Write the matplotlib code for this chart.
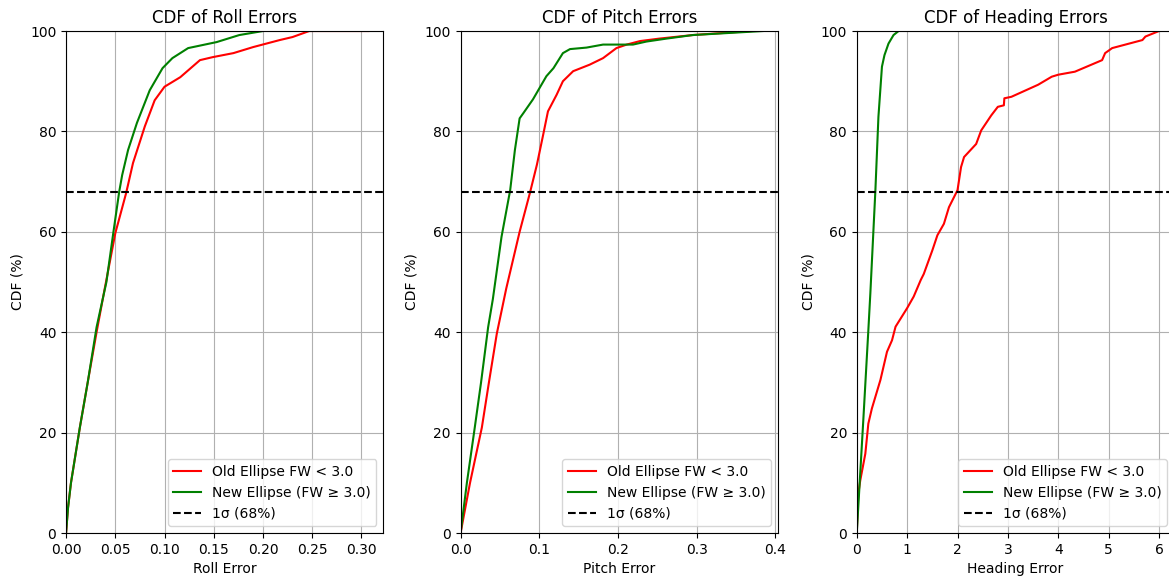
import numpy as np
import matplotlib
matplotlib.use("Agg")
import matplotlib.pyplot as plt

roll_old_pct = [0, 5, 10, 21, 30, 40, 48.4, 59.7, 67.7, 73.7, 81, 86.2, 88.9, 90.8, 94.2, 94.8, 95.6, 96.8, 98.2, 98.8, 100, 100]
roll_old_err = [0, 0.002, 0.005, 0.014, 0.022, 0.031, 0.039, 0.050, 0.061, 0.068, 0.080, 0.090, 0.100, 0.116, 0.136, 0.149, 0.170, 0.190, 0.217, 0.230, 0.247, 0.307]
roll_new_pct = [0, 5, 10, 21, 30, 41, 50, 59.8, 68, 71.3, 76.3, 81.7, 88.2, 92.6, 94.6, 96.6, 97.8, 99.2, 100]
roll_new_err = [0, 0.002, 0.005, 0.014, 0.022, 0.031, 0.041, 0.048, 0.054, 0.057, 0.063, 0.072, 0.085, 0.098, 0.108, 0.124, 0.153, 0.176, 0.200]

pitch_old_pct = [0, 10, 21, 30, 39.7, 48.7, 60, 67.7, 73.4, 79.4, 84, 87.3, 90, 92, 93.3, 94.6, 96.6, 97.3, 98, 98.5, 99.2, 100]
pitch_old_err = [0, 0.012, 0.027, 0.036, 0.046, 0.058, 0.075, 0.088, 0.097, 0.105, 0.111, 0.122, 0.130, 0.143, 0.164, 0.181, 0.198, 0.211, 0.228, 0.253, 0.295, 0.37]
pitch_new_pct = [0, 10, 21, 30, 41, 46.6, 59, 68.3, 76.3, 82.6, 83.7, 86.4, 91, 92.6, 94.6, 95.6, 96.4, 96.7, 97.3, 97.3, 97.9, 98.5, 99.2, 100]
pitch_new_err = [0, 0.008, 0.018, 0.026, 0.035, 0.041, 0.052, 0.063, 0.069, 0.075, 0.080, 0.092, 0.109, 0.118, 0.126, 0.130, 0.139, 0.160, 0.181, 0.219, 0.236, 0.262, 0.295, 0.384]

head_old_pct = [0, 7.8, 10.5, 15.8, 21.8, 24.8, 30.5, 36.1, 38.4, 41.1, 44.8, 47.1, 50.4, 51.6, 56.3, 59.3, 61.6, 64.9, 68.3, 72.9, 74.9, 77.5, 80.2, 83.2, 84.9, 85.2, 86.6, 86.9, 89.3, 90.9, 91.3, 91.9, 94.2, 95.6, 96.6, 98.2, 98.9, 100]
head_old_err = [0, 0.03, 0.07, 0.17, 0.23, 0.30, 0.47, 0.60, 0.70, 0.77, 1.0, 1.13, 1.27, 1.33, 1.5, 1.6, 1.73, 1.83, 2.0, 2.07, 2.13, 2.37, 2.47, 2.67, 2.8, 2.92, 2.93, 3.07, 3.6, 3.87, 4.0, 4.33, 4.87, 4.93, 5.07, 5.67, 5.73, 6.0]
head_new_pct = [0, 22.5, 40.4, 47.8, 68.3, 82.9, 92.9, 95.2, 97.5, 99.2, 100]
head_new_err = [0, 0.13, 0.23, 0.27, 0.37, 0.43, 0.50, 0.55, 0.63, 0.73, 0.83]

panels = [
    ("Roll", roll_old_err, roll_old_pct, roll_new_err, roll_new_pct),
    ("Pitch", pitch_old_err, pitch_old_pct, pitch_new_err, pitch_new_pct),
    ("Heading", head_old_err, head_old_pct, head_new_err, head_new_pct),
]
lefts = [0.0565, 0.394, 0.7329]

fig = plt.figure(figsize=(11.69, 5.81), dpi=100)
for (name, xo, yo, xn, yn), left in zip(panels, lefts):
    ax = fig.add_axes([left, 0.0826, 0.2715, 0.864])
    ax.plot(xo, yo, color='red', label='Old Ellipse FW < 3.0')
    ax.plot(xn, yn, color='green', label='New Ellipse (FW ≥ 3.0)')
    ax.axhline(68, color='black', linestyle='--', label='1σ (68%)')
    ax.set_xlim(0, max(max(xo), max(xn)) * 1.05)
    ax.set_ylim(0, 100)
    ax.set_title(f"CDF of {name} Errors")
    ax.set_xlabel(f"{name} Error")
    ax.set_ylabel("CDF (%)")
    ax.grid(True)
    ax.legend(loc='lower right')

fig.savefig("out.png", dpi=100)
